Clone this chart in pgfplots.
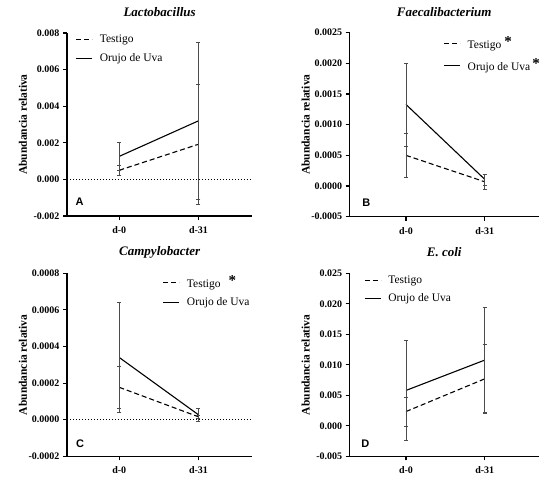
\documentclass[border=0pt]{standalone}
\usepackage{fontspec}
\setmainfont{Liberation Serif}
\newfontfamily\arialfont{Liberation Sans}
\usepackage{pgfplots}
\pgfplotsset{compat=1.18}

\newcommand{\lgfont}{\fontsize{11.5}{12.5}\selectfont}
\newcommand{\sigstar}{\raisebox{0.3ex}{\fontsize{15}{15}\selectfont\bfseries*}}

\pgfplotsset{
  gp/.style={
    scale only axis,
    axis lines=left,
    axis line style={-, line width=1.1pt},
    tick align=outside,
    major tick length=4pt,
    tick style={line width=1.1pt, black},
    xtick={0,1}, xticklabels={d-0,d-31},
    ticklabel style={font=\fontsize{10}{10}\selectfont\bfseries},
    xticklabel style={yshift=-3pt},
    scaled y ticks=false,
    title style={font=\fontsize{13}{13}\selectfont\bfseries\itshape, at={(0.5,1)}, anchor=center, yshift=15pt},
    ylabel={\fontsize{11.5}{12}\selectfont\bfseries Abundancia relativa},
    ylabel style={anchor=center},
    clip=false,
    legend style={draw=none, fill=none, font=\lgfont, anchor=north west,
      row sep=5pt, column sep=5pt, legend cell align=left},
    legend image code/.code={\draw[#1] (0pt,0pt) -- (16pt,0pt);},
  },
  ebar/.style={error bars/.cd, y dir=both, y explicit,
    error bar style={black!70, line width=0.5pt, solid},
    error mark options={rotate=90, black!70, mark size=2pt, line width=0.5pt, solid}},
  testigo/.style={black, line width=1.1pt, dash pattern=on 5pt off 3pt, ebar},
  orujo/.style={black, line width=1.1pt, ebar},
}
\tikzset{
  letter/.style={font=\arialfont\bfseries\fontsize{11}{11}\selectfont, anchor=center},
  zeroline/.style={black, line width=0.6pt, dash pattern=on 1pt off 2pt},
}

\begin{document}
\begin{tikzpicture}
\path[use as bounding box] (0pt,0pt) rectangle (545pt,-488pt);

% A
\begin{axis}[gp, at={(67pt,-216pt)}, anchor=south west, width=185.3pt, height=183pt,
  xmin=-0.66, xmax=1.68, ymin=-0.002, ymax=0.008,
  ytick={-0.002,0,0.002,0.004,0.006,0.008},
  yticklabels={-0.002,0.000,0.002,0.004,0.006,0.008},
  title={Lactobacillus},
  ylabel style={at={(axis description cs:-0.238,0.5)}},
  legend style={at={(axis description cs:0.03,1.01)}}]
\addplot[testigo] coordinates {(0,0.0005) +- (0,0.0003) (1,0.00192) +- (0,0.0033)};
\addlegendentry{\lgfont Testigo}
\addplot[orujo] coordinates {(0,0.00126) +- (0,0.00078) (1,0.0032) +- (0,0.00427)};
\addlegendentry{\lgfont Orujo de Uva}
\draw[zeroline] ({rel axis cs:0,0} |- {axis cs:0,0}) -- ({rel axis cs:1,0} |- {axis cs:0,0});
\node[letter] at (rel axis cs:0.0685,0.078) {A};
\end{axis}

% B
\begin{axis}[gp, at={(349.7pt,-216.7pt)}, anchor=south west, width=189pt, height=184pt,
  xmin=-0.715, xmax=1.686, ymin=-0.0005, ymax=0.0025,
  ytick={-0.0005,0,0.0005,0.001,0.0015,0.002,0.0025},
  yticklabels={-0.0005,0.0000,0.0005,0.0010,0.0015,0.0020,0.0025},
  title={Faecalibacterium},
  ylabel style={at={(axis description cs:-0.233,0.5)}},
  legend style={at={(axis description cs:0.48,1.0)}}]
\addplot[testigo] coordinates {(0,0.0005) +- (0,0.00036) (1,0.00007) +- (0,0.00012)};
\addlegendentry{\lgfont Testigo\hspace{3pt}\sigstar}
\addplot[orujo] coordinates {(0,0.00133) +- (0,0.00068) (1,0.00011) +- (0,0.00009)};
\addlegendentry{\lgfont Orujo de Uva\hspace{2pt}\sigstar}
\node[letter] at (rel axis cs:0.088,0.078) {B};
\end{axis}

% C
\begin{axis}[gp, at={(67pt,-456.3pt)}, anchor=south west, width=185.3pt, height=183pt,
  xmin=-0.66, xmax=1.68, ymin=-0.0002, ymax=0.0008,
  ytick={-0.0002,0,0.0002,0.0004,0.0006,0.0008},
  yticklabels={-0.0002,0.0000,0.0002,0.0004,0.0006,0.0008},
  title={Campylobacter},
  ylabel style={at={(axis description cs:-0.238,0.5)}},
  legend style={at={(axis description cs:0.5,1.01)}}]
\addplot[testigo] coordinates {(0,0.000177) +- (0,0.000113) (1,0.000016) +- (0,0.00001)};
\addlegendentry{\lgfont Testigo\hspace{8pt}\sigstar}
\addplot[orujo] coordinates {(0,0.00034) +- (0,0.0003) (1,0.000027) +- (0,0.000035)};
\addlegendentry{\lgfont Orujo de Uva}
\draw[zeroline] ({rel axis cs:0,0} |- {axis cs:0,0}) -- ({rel axis cs:1,0} |- {axis cs:0,0});
\node[letter] at (rel axis cs:0.0705,0.067) {C};
\end{axis}

% D
\begin{axis}[gp, at={(349.7pt,-456.3pt)}, anchor=south west, width=189pt, height=183pt,
  xmin=-0.715, xmax=1.686, ymin=-0.005, ymax=0.025,
  ytick={-0.005,0,0.005,0.01,0.015,0.02,0.025},
  yticklabels={-0.005,0.000,0.005,0.010,0.015,0.020,0.025},
  title={E. coli},
  ylabel style={at={(axis description cs:-0.233,0.5)}},
  legend style={at={(axis description cs:0.06,1.01)}}]
\addplot[testigo] coordinates {(0,0.00234) +- (0,0.00235) (1,0.0077) +- (0,0.0057)};
\addlegendentry{\lgfont Testigo}
\addplot[orujo] coordinates {(0,0.0058) +- (0,0.0082) (1,0.01077) +- (0,0.0086)};
\addlegendentry{\lgfont Orujo de Uva}
\node[letter] at (rel axis cs:0.083,0.067) {D};
\end{axis}
\end{tikzpicture}
\end{document}
